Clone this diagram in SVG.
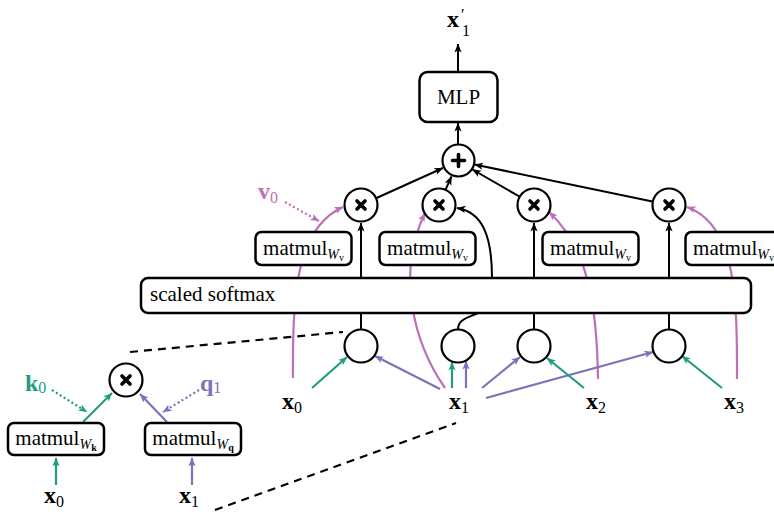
<svg xmlns="http://www.w3.org/2000/svg" width="774" height="512" viewBox="0 0 774 512">
<defs>
<style>
.box{fill:#fff;stroke:#000;stroke-width:2.5}
.circ{fill:#fff;stroke:#000;stroke-width:2.2}
.sym{stroke:#000;stroke-width:3.6;stroke-linecap:round;fill:none}
.lbl{font-family:"Liberation Serif","DejaVu Serif",serif;font-size:21px;fill:#000}
.bx{font-family:"Liberation Serif","DejaVu Serif",serif;font-size:24px;font-weight:bold}
.sub{font-family:"Liberation Serif","DejaVu Serif",serif;font-size:16px;font-weight:normal}
.ck{stroke:#000;stroke-width:2;fill:none}
.ct{stroke:#219c7f;stroke-width:2.2;fill:none}
.cp{stroke:#7b72bb;stroke-width:2.2;fill:none}
.cm{stroke:#bd6fb8;stroke-width:2.2;fill:none}
.dot{stroke-dasharray:2 2.6}
.dash{stroke:#000;stroke-width:2.2;stroke-dasharray:8 6;fill:none}
</style>
<marker id="ak" viewBox="0 0 10 8" refX="9.5" refY="4" markerWidth="9" markerHeight="8" orient="auto" markerUnits="userSpaceOnUse"><path d="M0,0 L10,4 L0,8 L2.5,4 Z" fill="#000"/></marker>
<marker id="at" viewBox="0 0 10 8" refX="9.5" refY="4" markerWidth="9" markerHeight="8" orient="auto" markerUnits="userSpaceOnUse"><path d="M0,0 L10,4 L0,8 L2.5,4 Z" fill="#219c7f"/></marker>
<marker id="ap" viewBox="0 0 10 8" refX="9.5" refY="4" markerWidth="9" markerHeight="8" orient="auto" markerUnits="userSpaceOnUse"><path d="M0,0 L10,4 L0,8 L2.5,4 Z" fill="#7b72bb"/></marker>
<marker id="am" viewBox="0 0 10 8" refX="9.5" refY="4" markerWidth="9" markerHeight="8" orient="auto" markerUnits="userSpaceOnUse"><path d="M0,0 L10,4 L0,8 L2.5,4 Z" fill="#bd6fb8"/></marker>
</defs>
<rect width="774" height="512" fill="#fff"/>

<g id="connectors">
  <path class="cm" d="M293,378 C292,295 296,228 343,207" marker-end="url(#am)"/>
  <path class="cm" d="M445,388 C415,345 395,275 425,213" marker-end="url(#am)"/>
  <path class="cm" d="M598,379 C597,310 590,250 549,212" marker-end="url(#am)"/>
  <path class="cm" d="M737,379 C737,300 737,225 687,207" marker-end="url(#am)"/>
  <path class="dash" d="M130,352 L343,332"/>
  <path class="dash" d="M215,510 L456,423"/>
  <path class="ck" d="M361,278 L361,223" marker-end="url(#ak)"/>
  <path class="ck" d="M534,278 L534,223" marker-end="url(#ak)"/>
  <path class="ck" d="M669,278 L669,223" marker-end="url(#ak)"/>
  <path class="ck" d="M492,278 C492,235 482,212 457,208" marker-end="url(#ak)"/>
  <path class="ck" d="M376.5,198 L443,168" marker-end="url(#ak)"/>
  <path class="ck" d="M445.7,189.4 L451.5,176.5" marker-end="url(#ak)"/>
  <path class="ck" d="M519.3,196.5 L472.5,169.5" marker-end="url(#ak)"/>
  <path class="ck" d="M652.4,201.5 L474.5,164.5" marker-end="url(#ak)"/>
  <path class="ck" d="M458,144.5 L458,123" marker-end="url(#ak)"/>
  <path class="ck" d="M458,72 L458,44" marker-end="url(#ak)"/>
  <path class="ck" d="M361,313 L361,329.5"/>
  <path class="ck" d="M534,313 L534,329.5"/>
  <path class="ck" d="M669,313 L669,329.5"/>
  <path class="ck" d="M478,313 C468,318 458,319 458,329.5"/>
  <path class="ct" d="M312,388 L347,357" marker-end="url(#at)"/>
  <path class="cp" d="M440,389 L375,356" marker-end="url(#ap)"/>
  <path class="ct" d="M452,388 L452,362" marker-end="url(#at)"/>
  <path class="cp" d="M466,388 L466,361" marker-end="url(#ap)"/>
  <path class="cp" d="M482,388 L520,357" marker-end="url(#ap)"/>
  <path class="cp" d="M486,398 L653,352" marker-end="url(#ap)"/>
  <path class="ct" d="M584,388 L547,358" marker-end="url(#at)"/>
  <path class="ct" d="M722,388 L682,356" marker-end="url(#at)"/>
  <path class="cm dot" d="M285,202 L319,221" marker-end="url(#am)"/>
  <path class="ct" d="M83,422 L112,393" marker-end="url(#at)"/>
  <path class="cp" d="M167,422 L140,394" marker-end="url(#ap)"/>
  <path class="ct dot" d="M52,390 L87,412" marker-end="url(#at)"/>
  <path class="cp dot" d="M199,390 L163,412" marker-end="url(#ap)"/>
  <path class="ct" d="M56,485 L56,458" marker-end="url(#at)"/>
  <path class="cp" d="M192,485 L192,458" marker-end="url(#ap)"/>
</g>

<g id="out-label"><text class="bx" x="447" y="27">x</text><text class="sub" x="461" y="20" font-size="18">′</text><text class="sub" x="462" y="36">1</text></g>

<g id="mlp"><rect class="box" x="419.5" y="72" width="78" height="50" rx="8"/><text class="lbl" x="458.5" y="104" text-anchor="middle">MLP</text></g>

<g id="plus"><circle class="circ" cx="458.5" cy="160.5" r="16"/><path class="sym" d="M452.5,160.5 L464.5,160.5 M458.5,154.5 L458.5,166.5"/></g>

<g id="mul1"><circle class="circ" cx="361" cy="205" r="16.5"/><path class="sym" d="M357,201 L365,209 M365,201 L357,209"/></g>
<g id="mul2"><circle class="circ" cx="439" cy="205" r="16.5"/><path class="sym" d="M435,201 L443,209 M443,201 L435,209"/></g>
<g id="mul3"><circle class="circ" cx="534" cy="205" r="16.5"/><path class="sym" d="M530,201 L538,209 M538,201 L530,209"/></g>
<g id="mul4"><circle class="circ" cx="669" cy="205" r="16.5"/><path class="sym" d="M665,201 L673,209 M673,201 L665,209"/></g>

<g id="v0-label"><text class="bx" x="258" y="199" fill="#bd6fb8">v<tspan class="sub" dy="4">0</tspan></text></g>

<g id="wv1"><rect class="box" x="255.5" y="232" width="96" height="33" rx="6"/><text class="lbl" x="303.5" y="255" text-anchor="middle">matmul<tspan font-style="italic" font-size="14" dy="4">W</tspan><tspan font-size="10" dy="2">v</tspan></text></g>
<g id="wv2"><rect class="box" x="379.5" y="232" width="96" height="33" rx="6"/><text class="lbl" x="427.5" y="255" text-anchor="middle">matmul<tspan font-style="italic" font-size="14" dy="4">W</tspan><tspan font-size="10" dy="2">v</tspan></text></g>
<g id="wv3"><rect class="box" x="542.5" y="232" width="96" height="33" rx="6"/><text class="lbl" x="590.5" y="255" text-anchor="middle">matmul<tspan font-style="italic" font-size="14" dy="4">W</tspan><tspan font-size="10" dy="2">v</tspan></text></g>
<g id="wv4"><rect class="box" x="685.5" y="232" width="96" height="33" rx="6"/><text class="lbl" x="733.5" y="255" text-anchor="middle">matmul<tspan font-style="italic" font-size="14" dy="4">W</tspan><tspan font-size="10" dy="2">v</tspan></text></g>

<g id="softmax"><rect class="box" x="141" y="278" width="610" height="35" rx="7"/><text class="lbl" x="150" y="301">scaled softmax</text></g>

<g id="s1"><circle class="circ" cx="361" cy="346" r="16.5"/></g>
<g id="s2"><circle class="circ" cx="458" cy="346" r="16.5"/></g>
<g id="s3"><circle class="circ" cx="534" cy="346" r="16.5"/></g>
<g id="s4"><circle class="circ" cx="669" cy="346" r="16.5"/></g>

<g id="x0"><text class="bx" x="282" y="409">x<tspan class="sub" dy="4">0</tspan></text></g>
<g id="x1"><text class="bx" x="449" y="409">x<tspan class="sub" dy="4">1</tspan></text></g>
<g id="x2"><text class="bx" x="586" y="409">x<tspan class="sub" dy="4">2</tspan></text></g>
<g id="x3"><text class="bx" x="724" y="409">x<tspan class="sub" dy="4">3</tspan></text></g>

<g id="inset-mul"><circle class="circ" cx="126" cy="380" r="16.5"/><path class="sym" d="M122,376 L130,384 M130,376 L122,384"/></g>
<g id="k0-label"><text class="bx" x="25" y="391" fill="#219c7f">k<tspan class="sub" dy="2">0</tspan></text></g>
<g id="q1-label"><text class="bx" x="200" y="391" fill="#7b72bb">q<tspan class="sub" dy="2">1</tspan></text></g>
<g id="wk"><rect class="box" x="8" y="423" width="96" height="32" rx="6"/><text class="lbl" x="56" y="445" text-anchor="middle">matmul<tspan font-style="italic" font-size="14" dy="4">W</tspan><tspan font-size="10" font-weight="bold" dy="2">k</tspan></text></g>
<g id="wq"><rect class="box" x="145" y="423" width="96" height="32" rx="6"/><text class="lbl" x="193" y="445" text-anchor="middle">matmul<tspan font-style="italic" font-size="14" dy="4">W</tspan><tspan font-size="10" font-weight="bold" dy="2">q</tspan></text></g>
<g id="bx0"><text class="bx" x="44" y="503">x<tspan class="sub" dy="4">0</tspan></text></g>
<g id="bx1"><text class="bx" x="179" y="503">x<tspan class="sub" dy="4">1</tspan></text></g>
</svg>
